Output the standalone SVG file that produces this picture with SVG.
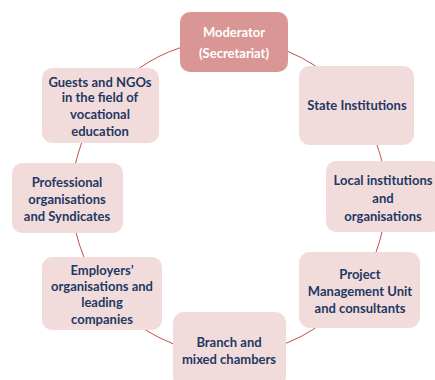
<svg xmlns="http://www.w3.org/2000/svg" width="435" height="380" viewBox="0 0 435 380">
<style>
.box{fill:#f2dcdb;}
.mod{fill:#d99694;}
.t{font-family:Lato,"Liberation Sans",sans-serif;font-weight:bold;font-size:13px;fill:#1f3864;text-anchor:middle;}
.tw{fill:#ffffff;}
.c{fill:none;stroke:#c0504d;stroke-width:1;}
</style>
<rect width="435" height="380" fill="#ffffff"/>
<g id="connectors">
<path class="c" d="M288,51.5 A157,157 0 0 1 315.5,66"/>
<path class="c" d="M377,145 A157,157 0 0 1 381.8,161"/>
<path class="c" d="M382,232 A157,157 0 0 1 376,252"/>
<path class="c" d="M315.5,328 A157,157 0 0 1 286,343.3"/>
<path class="c" d="M173,343.7 A157,157 0 0 1 145.6,330"/>
<path class="c" d="M83.9,257 A157,157 0 0 1 76.2,233"/>
<path class="c" d="M75.7,163 A157,157 0 0 1 81.6,143"/>
<path class="c" d="M139.5,68 A157,157 0 0 1 180,47.8"/>
</g>
<g id="moderator">
<rect class="mod" x="180" y="12" width="108" height="60" rx="10"/>
<text class="t tw" x="234" y="36.5">Moderator</text>
<text class="t tw" x="234" y="57.5">(Secretariat)</text>
</g>
<g id="state">
<rect class="box" x="299" y="66" width="115" height="79" rx="11"/>
<text class="t" x="357" y="109.5">State Institutions</text>
</g>
<g id="local">
<rect class="box" x="326" y="161" width="116" height="71" rx="10"/>
<text class="t" x="383" y="184.5">Local institutions</text>
<text class="t" x="383" y="203">and</text>
<text class="t" x="383" y="221">organisations</text>
</g>
<g id="project">
<rect class="box" x="299" y="252" width="121" height="76" rx="11"/>
<text class="t" x="360" y="279">Project</text>
<text class="t" x="360" y="296">Management Unit</text>
<text class="t" x="360" y="313">and consultants</text>
</g>
<g id="branch">
<rect class="box" x="173" y="312" width="113" height="75" rx="11"/>
<text class="t" x="229" y="347">Branch and</text>
<text class="t" x="229" y="364">mixed chambers</text>
</g>
<g id="employers">
<rect class="box" x="42" y="257" width="120" height="73" rx="10"/>
<text class="t" x="102" y="274.5">Employers’</text>
<text class="t" x="102" y="290.5">organisations and</text>
<text class="t" x="102" y="307">leading</text>
<text class="t" x="102" y="323.5">companies</text>
</g>
<g id="professional">
<rect class="box" x="12" y="163" width="111" height="70" rx="10"/>
<text class="t" x="67" y="187">Professional</text>
<text class="t" x="67" y="204">organisations</text>
<text class="t" x="67" y="220.5">and Syndicates</text>
</g>
<g id="guests">
<rect class="box" x="42" y="68" width="117" height="75" rx="10"/>
<text class="t" x="100" y="87">Guests and NGOs</text>
<text class="t" x="100" y="102">in the field of</text>
<text class="t" x="100" y="118.5">vocational</text>
<text class="t" x="100" y="135.5">education</text>
</g>
</svg>
